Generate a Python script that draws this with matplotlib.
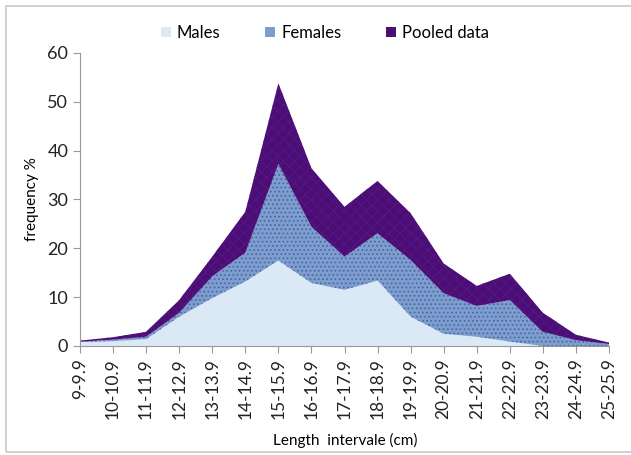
import numpy as np
import matplotlib.pyplot as plt
from matplotlib.patches import Rectangle, Patch

plt.rcParams['font.family'] = ['Lato', 'DejaVu Sans']
plt.rcParams['hatch.linewidth'] = 0.7

# length classes (cm)
classes = ['9-9.9', '10-10.9', '11-11.9', '12-12.9', '13-13.9', '14-14.9',
           '15-15.9', '16-16.9', '17-17.9', '18-18.9', '19-19.9', '20-20.9',
           '21-21.9', '22-22.9', '23-23.9', '24-24.9', '25-25.9']
# stacked layers, frequency %
males = [0.8, 1.0, 1.4, 6.0, 9.8, 13.2, 17.5, 12.9, 11.5, 13.4, 6.0, 2.5,
         1.9, 0.9, 0.0, 0.0, 0.0]
females = [0.1, 0.3, 0.5, 0.8, 4.5, 5.9, 19.8, 11.5, 6.8, 9.7, 11.6, 8.3,
           6.3, 8.5, 2.9, 1.2, 0.4]
pooled = [0.2, 0.5, 1.0, 2.6, 4.0, 8.4, 16.5, 12.0, 10.2, 10.7, 9.6, 6.1,
          4.1, 5.4, 3.9, 1.1, 0.3]

c_m = '#dbe8f6'
c_f = '#7e9dcf'
c_p = '#4b0f73'

fig = plt.figure(figsize=(6.31, 4.55), dpi=100)
ax = fig.add_axes([80/631, 1-346/455, 529/631, 293/455])
x = np.arange(len(classes))
polys = ax.stackplot(x, males, females, pooled, colors=[c_m, c_f, c_p], linewidth=0)
polys[1].set_hatch('....')
polys[1].set_edgecolor('#46659e')
polys[1].set_linewidth(0)
polys[2].set_hatch('xxx')
polys[2].set_edgecolor('#55148a')
polys[2].set_linewidth(0)

ax.set_xlim(0, len(classes)-1)
ax.set_ylim(0, 60)
ax.set_yticks(range(0, 61, 10))
ax.set_xticks(x)
ax.set_xticklabels(classes, rotation=90, fontsize=12.5, color='#222222')
ax.tick_params(axis='y', labelsize=13, colors='#222222', length=5, color='#999999')
ax.tick_params(axis='x', length=5, color='#999999')
for s in ['top', 'right']:
    ax.spines[s].set_visible(False)
for s in ['left', 'bottom']:
    ax.spines[s].set_color('#999999')
ax.set_ylabel('frequency %', fontsize=11, labelpad=6)
fig.text((81+609)/2/631, 1-440/455, 'Length  intervale (cm)', ha='center', va='center', fontsize=11)

handles = [Patch(facecolor=c_m, label='Males'), Patch(facecolor=c_f, label='Females'),
           Patch(facecolor=c_p, label='Pooled data')]
fig.legend(handles=handles, loc='center', bbox_to_anchor=(0.515, 1-33/455), ncol=3,
           frameon=False, fontsize=12, handlelength=0.6, handleheight=0.6,
           handletextpad=0.35, columnspacing=2.7)

fig.patches.append(Rectangle((6/631, 3/455), 1.0, 1-9/455, transform=fig.transFigure,
                             fill=False, edgecolor='#c8c8c8', linewidth=1.2))
fig.savefig('out.png', dpi=100)
